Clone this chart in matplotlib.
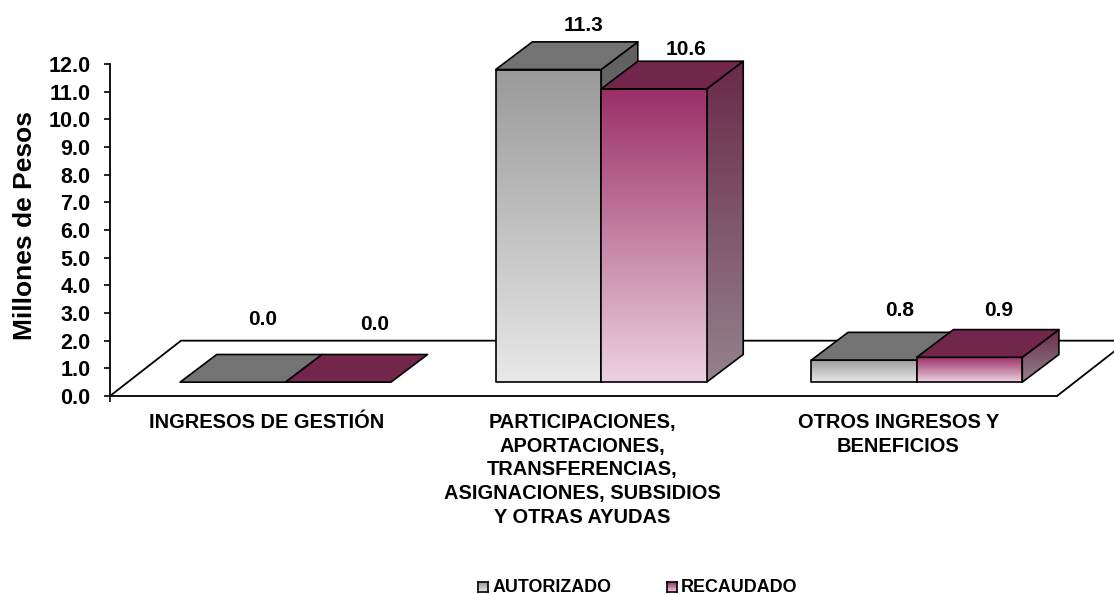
import matplotlib
matplotlib.use("Agg")
import matplotlib.pyplot as plt
from matplotlib.colors import LinearSegmentedColormap
from matplotlib.patches import Polygon
import numpy as np

plt.rcParams["font.family"] = ["Liberation Sans", "DejaVu Sans"]

# Datos
categorias = ["INGRESOS DE GESTIÓN",
              "PARTICIPACIONES,\nAPORTACIONES,\nTRANSFERENCIAS,\nASIGNACIONES, SUBSIDIOS\nY OTRAS AYUDAS",
              "OTROS INGRESOS Y\nBENEFICIOS"]
autorizado = [0.0, 11.3, 0.8]
recaudado = [0.0, 10.6, 0.9]
ticks_y = [float(i) for i in range(13)]
series = ["AUTORIZADO", "RECAUDADO"]

# Geometria (unidades de los ejes)
W, H = 1114, 594
X0, X1, Y0, Y1 = 110, 1057, 396, 64
ANCHO = 0.334
INICIO = 0.222
BASE = 0.5          # la barra empieza a 0.5 del frente del piso
DX, DY = 0.116, 1.0 # profundidad de la barra
PISO_DX, PISO_DY = 0.225, 2.0

# Desplazamiento de las etiquetas (dx en categorias, dy en valor)
despl_aut = [(0.263, 1.27), (0.279, 0.58), (0.279, 0.8)]
despl_rec = [(0.282, 1.09), (0.269, 0.43), (0.26, 0.7)]

cm_aut = LinearSegmentedColormap.from_list("aut", ["#e8e8e8", "#9a9a9a"])
cm_rec = LinearSegmentedColormap.from_list("rec", ["#ecd2e0", "#9b2f66"])
cm_lado_aut = LinearSegmentedColormap.from_list("la", ["#8f8f8f", "#5f5f5f"])
cm_lado_rec = LinearSegmentedColormap.from_list("lr", ["#94828b", "#6a2a4a"])
TOP_AUT = "#737373"
TOP_REC = "#72264c"

fig = plt.figure(figsize=(W / 100, H / 100), dpi=100)
ax = fig.add_axes([X0 / W, 1 - Y0 / H, (X1 - X0) / W, (Y0 - Y1) / H])
ax.patch.set_visible(False)


def gradiente(puntos, cmap, z):
    xs = [p[0] for p in puntos]
    ys = [p[1] for p in puntos]
    grad = np.linspace(0, 1, 128).reshape(-1, 1)
    im = ax.imshow(grad, cmap=cmap, origin="lower", aspect="auto", zorder=z,
                   extent=(min(xs), max(xs), min(ys), max(ys)))
    clip = Polygon(puntos, transform=ax.transData)
    im.set_clip_path(clip)
    im.set_clip_box(fig.bbox)
    ax.add_patch(Polygon(puntos, fill=False, ec="black", lw=1.2, zorder=z + 0.1,
                         clip_on=False, joinstyle="round"))


def barra(x, valor, cm_frente, cm_lado, color_top, z):
    y0, y1 = BASE, BASE + valor
    frente = [(x, y0), (x + ANCHO, y0), (x + ANCHO, y1), (x, y1)]
    lado = [(x + ANCHO, y0), (x + ANCHO + DX, y0 + DY),
            (x + ANCHO + DX, y1 + DY), (x + ANCHO, y1)]
    arriba = [(x, y1), (x + ANCHO, y1), (x + ANCHO + DX, y1 + DY), (x + DX, y1 + DY)]
    if valor > 0:
        gradiente(lado, cm_lado, z)
        gradiente(frente, cm_frente, z + 0.2)
    ax.add_patch(Polygon(arriba, fc=color_top, ec="black", lw=1.2, zorder=z + 0.4,
                         clip_on=False, joinstyle="round"))


# Piso
nc = len(categorias)
piso = [(0, 0), (PISO_DX, PISO_DY), (nc + PISO_DX, PISO_DY), (nc, 0)]
ax.add_patch(Polygon(piso, closed=False, fill=False, ec="black", lw=1.3, zorder=1, clip_on=False))

# Barras
for i in range(nc):
    x = i + INICIO
    barra(x, autorizado[i], cm_aut, cm_lado_aut, TOP_AUT, 2 + i)
    barra(x + ANCHO, recaudado[i], cm_rec, cm_lado_rec, TOP_REC, 2.5 + i)
    for x_b, valor, d in ((x, autorizado[i], despl_aut[i]), (x + ANCHO, recaudado[i], despl_rec[i])):
        ax.text(x_b + d[0], BASE + valor + DY + d[1], f"{valor:.1f}", ha="center", va="center",
                fontsize=15, fontweight="bold", zorder=10, clip_on=False)
    ax.text(i + 0.497, -0.62, categorias[i], ha="center", va="top", fontsize=14.4,
            fontweight="bold", linespacing=1.31, clip_on=False)

# Ejes
ax.set_xlim(0, nc)
ax.set_ylim(0, 12)
ax.set_yticks(ticks_y)
ax.set_yticklabels([f"{t:.1f}" for t in ticks_y], fontsize=15.5, fontweight="bold")
ax.set_xticks([0])
ax.set_xticklabels([""])
ax.tick_params(axis="both", length=4, width=1.2)
ax.tick_params(axis="y", pad=10)
ax.spines["top"].set_visible(False)
ax.spines["right"].set_visible(False)
ax.spines["left"].set_linewidth(1.3)
ax.spines["bottom"].set_linewidth(1.3)

fig.text(25 / W, 1 - 225 / H, "Millones de Pesos", rotation=90, ha="center", va="center",
         fontsize=19, fontweight="bold")

# Leyenda
for x_c, x_t, nombre, cm in ((478, 493, series[0], cm_aut), (667, 681, series[1], cm_rec)):
    lax = fig.add_axes([x_c / W, 1 - 592 / H, 10 / W, 10 / H])
    lax.imshow(np.linspace(0, 1, 32).reshape(-1, 1), cmap=cm, origin="lower", aspect="auto")
    lax.set_xticks([])
    lax.set_yticks([])
    for s in lax.spines.values():
        s.set_linewidth(1.2)
    fig.text(x_t / W, 1 - 587.5 / H, nombre, ha="left", va="center", fontsize=12.9, fontweight="bold")

fig.savefig("out.png", dpi=100)
